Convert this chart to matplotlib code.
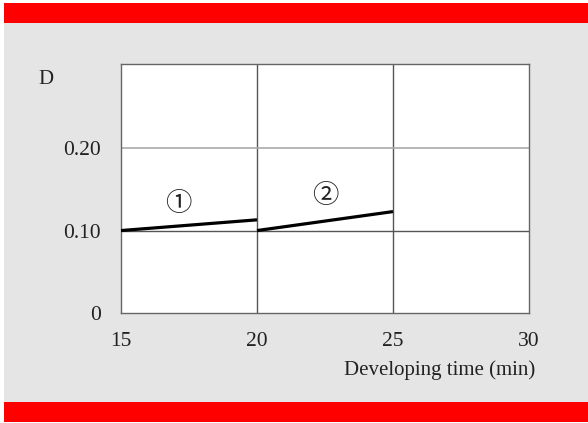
import matplotlib
matplotlib.use("Agg")
import matplotlib.pyplot as plt
from matplotlib.patches import Rectangle

# Data
x_ticks = [15, 20, 25, 30]
y_ticks = [0, 0.10, 0.20]
y_tick_labels = ["0", "0.10", "0.20"]
series1_x = [15, 20]
series1_y = [0.100, 0.113]
series2_x = [20, 25]
series2_y = [0.100, 0.123]
labels = ["①", "②"]
label_x = [17.1, 22.5]
label_y = [0.133, 0.143]

W, H = 588, 423
fig = plt.figure(figsize=(W / 100, H / 100), dpi=100)
fig.patch.set_facecolor("white")

def fx(px):
    return px / W

def fy(py):
    return 1 - py / H

# gray panel and red bands
fig.patches.append(Rectangle((fx(4), fy(402)), fx(588) - fx(4), fy(23) - fy(402),
                             transform=fig.transFigure, facecolor="#e5e5e5", edgecolor="none", zorder=-5))
fig.patches.append(Rectangle((fx(4), fy(23)), fx(588) - fx(4), fy(3) - fy(23),
                             transform=fig.transFigure, facecolor="#ff0000", edgecolor="none", zorder=-5))
fig.patches.append(Rectangle((fx(4), fy(422)), fx(588) - fx(4), fy(402) - fy(422),
                             transform=fig.transFigure, facecolor="#ff0000", edgecolor="none", zorder=-5))

left, right, top, bottom = 121, 529, 64, 313
ax = fig.add_axes([fx(left), fy(bottom), fx(right) - fx(left), fy(top) - fy(bottom)])
ax.set_zorder(2)
ax.set_facecolor("white")
ax.set_xlim(15, 30)
ax.set_ylim(0, 0.302)

serif = ["Liberation Serif", "DejaVu Serif"]

for gx in [20, 25]:
    ax.axvline(gx, color="#555555", lw=1.0, zorder=1)
ax.axhline(0.10, color="#555555", lw=1.0, zorder=1)
ax.axhline(0.20, color="#aaaaaa", lw=1.2, zorder=1)

for s in ax.spines.values():
    s.set_color("#666666")
    s.set_linewidth(1.0)

ax.plot(series1_x, series1_y, color="black", lw=2.3, solid_capstyle="butt", zorder=3)
ax.plot(series2_x, series2_y, color="black", lw=2.3, solid_capstyle="butt", zorder=3)

for t, lx, ly in zip(labels, label_x, label_y):
    ax.text(lx, ly, t, ha="center", va="center", fontsize=19,
            family=["Noto Sans CJK JP", "DejaVu Sans"], color="#222222")

ax.set_xticks(x_ticks)
ax.set_xticklabels([str(v) for v in x_ticks], family=serif, fontsize=15.5)
ax.set_yticks(y_ticks)
ax.set_yticklabels(y_tick_labels, family=serif, fontsize=15.5)
ax.tick_params(axis="both", length=0, colors="#222222")
ax.tick_params(axis="x", pad=13.5)
ax.tick_params(axis="y", pad=14.5)

fig.text(fx(535), fy(370), "Developing time (min)", ha="right", va="center",
         family=serif, fontsize=15, color="#222222")
fig.text(fx(46), fy(79), "D", ha="center", va="center",
         family=serif, fontsize=15, color="#222222")

fig.savefig("out.png", dpi=100)
